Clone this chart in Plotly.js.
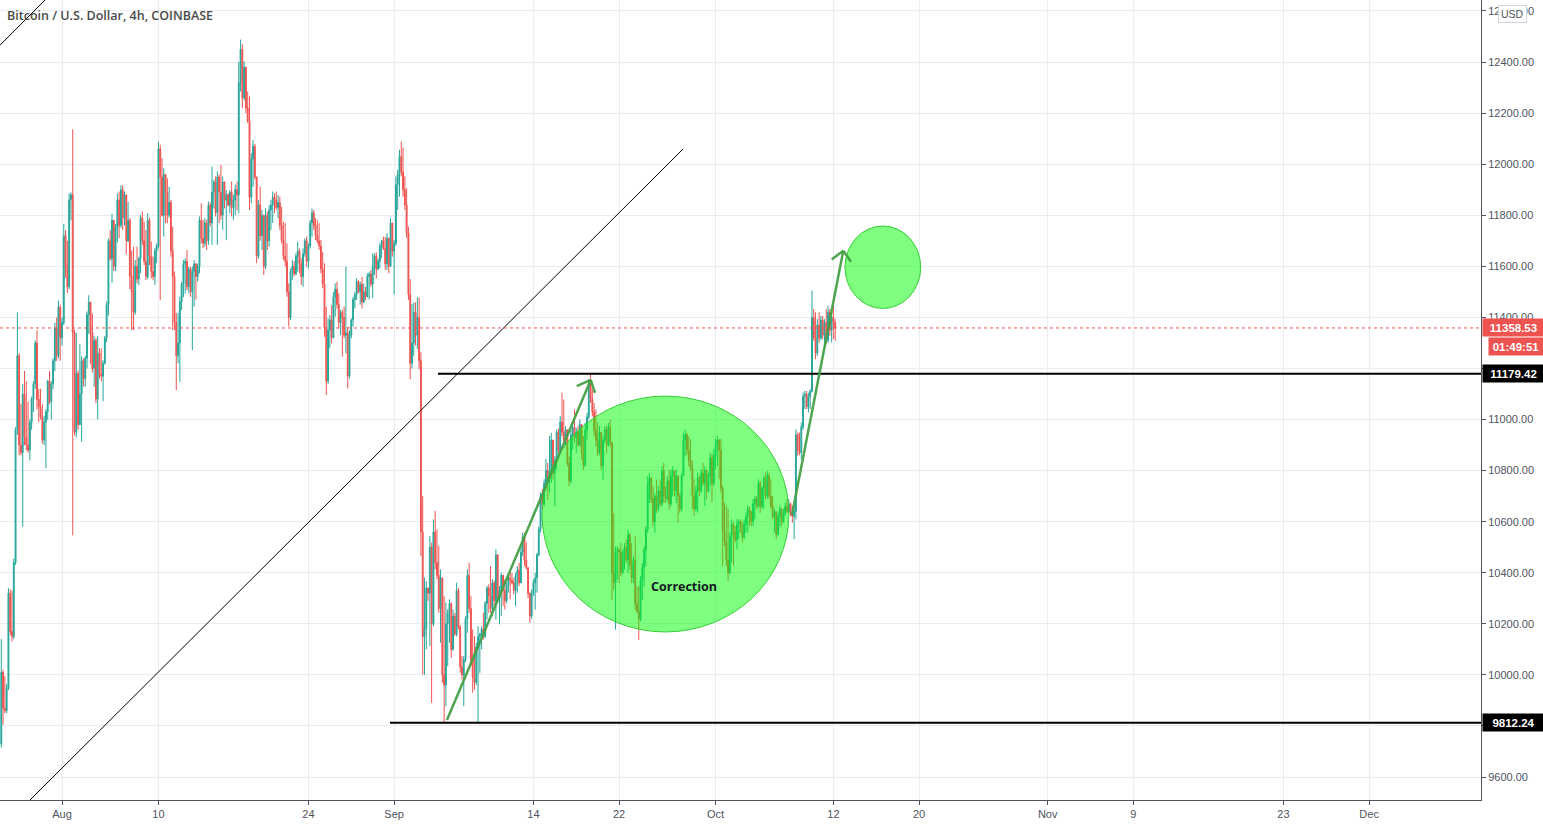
<!DOCTYPE html>
<html><head><meta charset="utf-8">
<script src="https://cdn.plot.ly/plotly-3.0.1.min.js"></script>
<style>html,body{margin:0;padding:0;background:#fff;overflow:hidden}#chart{width:1543px;height:827px}</style>
</head><body><div id="chart"></div>
<script>
// ---- DATA (BTC/USD 4h, Coinbase) ----
const firstCandleUTC = [2020, 6, 26, 8]; // 2020-07-26 08:00
const firstOpen = 9730;
const closes = [10010,9870,9860,9950,
10320,10170,10150,10440,10960,11250,
10900,10870,11100,10930,10900,10880,
10990,11080,11140,11300,11080,11050,
11010,10920,10990,11030,11150,11070,
11140,11230,11360,11250,11440,11320,
11380,11720,11600,11520,11860,11880,
11340,10950,11180,10980,11100,11230,
11160,11240,11410,11460,11340,11200,
11310,11080,11260,11180,11170,11220,
11320,11450,11700,11630,11780,11600,
11750,11860,11760,11900,11790,11880,
11700,11780,11560,11500,11420,11600,
11550,11630,11790,11700,11620,11560,
11780,11640,11580,11560,11660,11680,
12060,11950,11800,11960,11890,11800,
11850,11660,11560,11380,11250,11300,
11460,11530,11610,11620,11520,11590,
11500,11580,11610,11560,11600,11780,
11710,11690,11770,11700,11840,11770,
11890,11930,11810,11950,11890,11800,
11930,11860,11880,11840,11890,11830,
11860,11900,11880,12320,12450,12260,
12380,12220,12170,11870,12020,12070,
11950,11640,11840,11720,11800,11600,
11800,11700,11820,11840,11870,11860,
11830,11850,11760,11700,11640,11620,
11500,11400,11580,11600,11570,11640,
11660,11610,11560,11650,11700,11620,
11680,11770,11810,11760,11720,11700,
11680,11590,11530,11360,11150,11350,
11390,11320,11480,11510,11450,11380,
11420,11400,11330,11340,11170,11330,
11390,11470,11490,11540,11500,11530,
11460,11500,11480,11560,11570,11530,
11600,11640,11590,11620,11680,11700,
11670,11610,11710,11600,11770,11660,
11690,11920,11960,12030,11970,11900,
11840,11730,11490,11220,11300,11420,
11330,11400,11230,10560,10150,10180,
10340,10320,10500,10200,10560,10440,
10390,10260,10380,10000,9960,10200,
10240,10280,10100,10230,10160,10330,
10190,10030,10000,10060,10220,10390,
10260,10060,9990,9970,10110,10150,
10160,10180,10150,10280,10340,10310,
10260,10360,10290,10470,10300,10330,
10390,10330,10290,10350,10380,10370,
10360,10330,10390,10410,10360,10480,
10540,10450,10420,10320,10230,10320,
10360,10380,10470,10570,10700,10670,
10750,10800,10770,10800,10920,10790,
10840,10950,10880,10990,10950,10920,
10960,10830,10760,10940,10970,10930,
10950,10900,10980,10870,10820,10960,
11010,11140,11080,11030,10960,10920,
10870,10950,10820,10920,10960,10900,
10970,10910,10400,10360,10480,10490,
10480,10400,10480,10500,10450,10550,
10430,10380,10450,10280,10250,10220,
10370,10420,10490,10570,10750,10770,
10690,10600,10700,10650,10720,10670,
10800,10700,10690,10760,10670,10780,
10800,10720,10780,10700,10650,10780,
10920,10940,10880,10840,10810,10700,
10650,10720,10770,10720,10790,10750,
10800,10720,10780,10850,10750,10860,
10900,10920,10880,10730,10560,10520,
10450,10400,10540,10590,10560,10530,
10590,10600,10560,10540,10590,10620,
10650,10640,10600,10670,10690,10660,
10750,10660,10730,10770,10700,10780,
10700,10660,10620,10640,10550,10620,
10650,10600,10630,10660,10640,10670,
10630,10620,10640,10940,10880,10870,
10970,11090,11100,11050,11090,11110,
11400,11320,11260,11370,11320,11390,
11330,11380,11310,11420,11350,11400,
11380,11358.53];

const highs = [10140,10020,9995,9965,
10340,10335,10330,10455,10970,11420,
11260,11060,11140,11190,11150,11070,
11000,11090,11150,11310,11350,11120,
11120,11060,11015,11040,11155,11190,
11150,11240,11380,11400,11465,11450,
11400,11766,11742,11700,11885,11890,
12137,11351,11340,11192,11295,11248,
11240,11250,11423,11487,11460,11415,
11327,11320,11327,11279,11279,11232,
11327,11463,11710,11742,11806,11780,
11766,11885,11893,11917,11917,11893,
11880,11853,11790,11662,11677,11625,
11677,11638,11801,11814,11775,11743,
11808,11790,11697,11638,11671,11690,
12089,12076,12024,11984,11960,11945,
11912,11860,11755,11580,11416,11416,
11481,11540,11625,11631,11664,11599,
11599,11599,11625,11612,11610,11795,
11847,11782,11788,11782,11854,11850,
11991,11939,11952,11971,11960,11997,
11952,11932,11899,11886,11899,11932,
11880,11920,11932,12400,12488,12470,
12403,12380,12285,12265,12043,12095,
12080,11950,11860,11912,11821,11800,
11827,11815,11840,11860,11893,11886,
11893,11880,11873,11834,11775,11769,
11690,11533,11592,11625,11620,11651,
11697,11670,11631,11670,11710,11716,
11690,11782,11827,11821,11788,11780,
11769,11703,11657,11612,11442,11396,
11409,11448,11500,11533,11540,11494,
11429,11430,11442,11599,11364,11350,
11396,11481,11500,11553,11546,11540,
11559,11533,11520,11573,11579,11585,
11651,11651,11655,11631,11690,11703,
11716,11716,11730,11710,11788,11770,
11703,11952,11978,12056,12089,12065,
11952,11906,11756,11550,11452,11459,
11459,11478,11478,11263,10700,10380,
10367,10341,10544,10518,10609,10642,
10570,10505,10413,10380,10308,10283,
10256,10296,10283,10256,10243,10361,
10340,10195,10074,10073,10230,10413,
10439,10308,10178,10152,10126,10191,
10165,10191,10243,10289,10348,10355,
10426,10374,10370,10492,10470,10348,
10400,10390,10374,10361,10387,10400,
10400,10380,10400,10426,10439,10505,
10557,10557,10518,10420,10322,10335,
10374,10400,10478,10581,10714,10727,
10766,10845,10830,10936,10948,10920,
10856,10961,10965,11013,11105,11078,
10974,10960,10856,10961,10987,11039,
10967,10974,11000,10980,10935,10987,
11026,11157,11179.42,11118,11065,11039,
10987,10974,10948,10935,10974,10975,
10987,11000,10910,10634,10503,10503,
10495,10516,10490,10516,10530,10569,
10556,10516,10464,10543,10346,10346,
10386,10438,10503,10582,10778,10791,
10775,10739,10712,10765,10739,10765,
10817,10830,10739,10778,10804,10804,
10817,10800,10804,10780,10712,10791,
10948,10961,10948,10935,10922,10840,
10766,10740,10792,10780,10805,10831,
10818,10805,10792,10871,10865,10884,
10923,10936,10923,10923,10740,10675,
10662,10649,10557,10609,10600,10583,
10609,10609,10609,10600,10609,10635,
10662,10660,10635,10688,10701,10701,
10766,10760,10740,10780,10792,10799,
10792,10766,10701,10649,10640,10635,
10662,10655,10649,10675,10688,10688,
10675,10662,10662,10962,10949,10949,
10988,11106,11112,11112,11105,11119,
11505,11433,11420,11393,11420,11406,
11406,11393,11433,11446,11433,11420,
11446,11393];

const lows = [9715,9805,9850,9850,
9940,10155,10130,10140,10430,10940,
10860,10860,10580,10900,10880,10870,
10840,10960,11030,11120,11040,10990,
11000,10905,10900,10810,11000,11060,
11000,11120,11190,11230,11240,11230,
11290,11370,11555,11495,11510,11780,
10546,10937,10930,10961,10980,10913,
11130,11128,11200,11335,11216,11184,
11128,11064,11001,11160,11150,11072,
11215,11303,11407,11622,11535,11582,
11582,11694,11710,11750,11742,11760,
11646,11694,11511,11351,11350,11410,
11533,11527,11573,11684,11605,11546,
11550,11605,11553,11546,11527,11612,
11670,11468,11795,11716,11769,11769,
11790,11638,11350,11350,11115,11220,
11148,11429,11480,11494,11507,11494,
11481,11272,11442,11470,11540,11573,
11690,11671,11677,11664,11684,11756,
11684,11827,11795,11684,11769,11782,
11743,11827,11703,11834,11808,11795,
11782,11800,11820,11808,12285,12220,
12250,12200,12161,11821,11847,11912,
11940,11612,11630,11700,11664,11566,
11590,11664,11677,11743,11769,11808,
11821,11788,11743,11690,11625,11599,
11481,11364,11390,11546,11560,11566,
11579,11573,11527,11520,11638,11599,
11592,11670,11716,11743,11703,11690,
11664,11573,11514,11324,11096,11140,
11279,11298,11324,11403,11435,11357,
11330,11246,11318,11259,11122,11160,
11318,11364,11435,11468,11494,11450,
11435,11455,11467,11481,11470,11520,
11475,11566,11553,11585,11592,11632,
11664,11586,11586,11573,11600,11638,
11490,11680,11821,11873,11952,11873,
11821,11710,11468,11158,11200,11250,
11290,11276,11197,10465,10001,10000,
10100,10290,10113,9890,10190,10413,
10374,10243,10126,9969,9812.24,9877,
10034,10126,10067,10095,10152,10150,
10178,10008,9982,9877,10050,10165,
10243,10034,9930,9943,9960,9815,
10008,10100,10139,10145,10217,10243,
10243,10230,10270,10217,10283,10198,
10230,10270,10256,10280,10322,10296,
10354,10315,10270,10322,10348,10360,
10465,10426,10413,10302,10204,10220,
10309,10256,10322,10465,10557,10648,
10660,10720,10686,10714,10752,10765,
10660,10804,10869,10869,10935,10909,
10900,10817,10739,10750,10882,10909,
10869,10895,10895,10843,10804,10815,
10922,11000,11065,11013,10935,10895,
10856,10860,10804,10765,10909,10869,
10895,10895,10294,10333,10177,10373,
10360,10386,10395,10412,10438,10399,
10412,10360,10360,10255,10242,10137,
10210,10294,10346,10425,10556,10673,
10673,10582,10556,10634,10640,10660,
10660,10673,10673,10680,10647,10660,
10699,10699,10673,10595,10634,10640,
10780,10856,10860,10817,10800,10648,
10622,10640,10635,10701,10714,10740,
10662,10688,10714,10740,10675,10740,
10805,10818,10766,10714,10426,10505,
10426,10367,10395,10439,10426,10518,
10492,10531,10557,10518,10531,10557,
10557,10583,10583,10583,10609,10649,
10655,10635,10650,10650,10688,10690,
10688,10649,10609,10557,10531,10545,
10583,10583,10595,10622,10635,10635,
10622,10596,10531,10609,10858,10860,
10844,10960,11041,11041,11027,11041,
11106,11308,11237,11250,11302,11310,
11315,11289,11295,11300,11328,11302,
11315,11308];

const tickDates = ['2020-08-01','2020-08-10','2020-08-24','2020-09-01','2020-09-14','2020-09-22','2020-10-01','2020-10-12','2020-10-20','2020-11-01','2020-11-09','2020-11-23','2020-12-01'];
const tickLabels = ['Aug','10','24','Sep','14','22','Oct','12','20','Nov','9','23','Dec'];
const priceTicks = [9600,9800,10000,10200,10400,10600,10800,11000,11200,11400,11600,11800,12000,12200,12400,12600];
const coveredPriceLabels = [9800, 11200]; // hidden under the level boxes in the reference
const lastPrice = 11358.53;
const countdownText = '01:49:51';
const resistanceLevel = 11179.42;
const supportLevel = 9812.24;
const titleText = 'Bitcoin / U.S. Dollar, 4h, COINBASE';
const noteText = 'Correction';

// ---- build ----
const H4 = 4 * 3600 * 1000;
const t0 = Date.UTC(firstCandleUTC[0], firstCandleUTC[1], firstCandleUTC[2], firstCandleUTC[3]);
const fmt = ms => new Date(ms).toISOString().slice(0, 16).replace('T', ' ');
const times = closes.map((_, i) => fmt(t0 + i * H4));
const opens = closes.map((c, i) => i === 0 ? firstOpen : closes[i - 1]);
const priceTickText = priceTicks.map(v => coveredPriceLabels.includes(v) ? '' : v.toFixed(2));

const xStart = '2020-07-26 05:07', xEnd = '2020-12-11 10:38';
const UP = '#26a69a', DOWN = '#ef5350';
const ARROW = 'rgba(67,160,71,0.95)';
const GREEN_FILL = 'rgba(0,255,0,0.5)', GREEN_LINE = 'rgba(40,200,40,0.9)';

const trace = {
  type: 'candlestick', x: times, open: opens, high: highs, low: lows, close: closes,
  increasing: {line: {color: UP, width: 1}, fillcolor: UP},
  decreasing: {line: {color: DOWN, width: 1}, fillcolor: DOWN},
  whiskerwidth: 0, hoverinfo: 'skip', showlegend: false
};

function seg(x0, y0, x1, y1, color, width, extra) {
  return Object.assign({type: 'line', xref: 'x', yref: 'y', x0, y0, x1, y1, line: {color, width}}, extra || {});
}

const shapes = [
  seg('2020-07-29 00:19', 9510, '2020-09-27 23:00', 12059, '#000', 1),
  seg('2020-07-26 05:07', 12466, '2020-07-30 09:55', 12643, '#000', 1),
  {type: 'line', xref: 'paper', yref: 'y', x0: 0, x1: 1, y0: lastPrice, y1: lastPrice, line: {color: DOWN, width: 1, dash: 'dot'}},
  seg('2020-09-05 02:10', resistanceLevel, xEnd, resistanceLevel, '#000', 2),
  seg('2020-08-31 14:40', supportLevel, xEnd, supportLevel, '#000', 2),
  {type: 'circle', xref: 'x', yref: 'y', x0: '2020-09-14 19:12', x1: '2020-10-07 20:24', y0: 10168, y1: 11092, fillcolor: GREEN_FILL, line: {color: GREEN_LINE, width: 1}},
  {type: 'circle', xref: 'x', yref: 'y', x0: '2020-10-13 01:55', x1: '2020-10-20 03:36', y0: 11435, y1: 11758, fillcolor: GREEN_FILL, line: {color: GREEN_LINE, width: 1}},
  seg('2020-09-05 22:20', 9823, '2020-09-19 08:20', 11155, ARROW, 2.5),
  seg('2020-09-18 01:00', 11131, '2020-09-19 08:20', 11155, ARROW, 2.5),
  seg('2020-09-19 18:00', 11104, '2020-09-19 08:20', 11155, ARROW, 2.5),
  seg('2020-10-08 03:07', 10626, '2020-10-12 22:05', 11661, ARROW, 2.5),
  seg('2020-10-11 20:10', 11627, '2020-10-12 22:05', 11661, ARROW, 2.5),
  seg('2020-10-13 15:22', 11618, '2020-10-12 22:05', 11661, ARROW, 2.5)
];

function priceBox(y, text, bg, xshift, w) {
  return {xref: 'paper', yref: 'y', x: 1, y, xanchor: 'left', yanchor: 'middle', xshift: xshift || 0,
    text, showarrow: false, bgcolor: bg, width: w || 61, height: 17, borderpad: 0, align: 'center', valign: 'middle',
    font: {family: 'Liberation Sans, Arial, sans-serif', size: 11.5, color: '#fff', weight: 700}};
}

const annotations = [
  {xref: 'x', yref: 'y', x: '2020-09-28 01:12', y: 10348, text: noteText, showarrow: false,
   font: {family: 'Open Sans, sans-serif', size: 12.5, color: '#131722', weight: 700}},
  priceBox(lastPrice, lastPrice.toFixed(2), DOWN, 1, 61),
  priceBox(11286, countdownText, DOWN, 7, 54),
  priceBox(resistanceLevel, resistanceLevel.toFixed(2), '#000', 1, 61),
  priceBox(supportLevel, supportLevel.toFixed(2), '#000', 1, 61),
  {xref: 'paper', yref: 'paper', x: 1512 / 1481, y: 1 - 14.5 / 800, xanchor: 'center', yanchor: 'middle',
   text: 'USD', showarrow: false, bgcolor: '#fff', bordercolor: '#d1d4dc', borderwidth: 1, borderpad: 2,
   font: {family: 'Liberation Sans, Arial, sans-serif', size: 10.5, color: '#50535e'}}
];

const axisFont = {family: 'Liberation Sans, Arial, sans-serif', size: 11, color: '#50535e'};
const layout = {
  width: 1543, height: 827,
  margin: {l: 0, r: 62, t: 0, b: 27, pad: 0},
  paper_bgcolor: '#fff', plot_bgcolor: '#fff',
  showlegend: false,
  title: {text: titleText, xref: 'container', yref: 'container', x: 7 / 1543, xanchor: 'left', y: 1 - 16 / 827, yanchor: 'middle',
    font: {family: 'Open Sans, sans-serif', size: 12.5, color: '#4a4a4a', weight: 600}},
  xaxis: {type: 'date', range: [xStart, xEnd], tickmode: 'array', tickvals: tickDates, ticktext: tickLabels,
    showgrid: true, gridcolor: '#e8edf2', gridwidth: 1, zeroline: false,
    showline: true, linecolor: '#50535e', linewidth: 1, ticks: 'outside', ticklen: 4, tickcolor: '#50535e',
    tickfont: axisFont, rangeslider: {visible: false}, fixedrange: true},
  yaxis: {side: 'right', range: [9510, 12643], tickmode: 'array', tickvals: priceTicks, ticktext: priceTickText,
    showgrid: true, gridcolor: '#e8edf2', gridwidth: 1, zeroline: false,
    showline: true, linecolor: '#50535e', linewidth: 1, ticks: 'outside', ticklen: 4, tickcolor: '#50535e',
    tickfont: axisFont, fixedrange: true},
  shapes, annotations
};

Plotly.newPlot('chart', [trace], layout, {displayModeBar: false, staticPlot: true});
</script>
</body></html>
